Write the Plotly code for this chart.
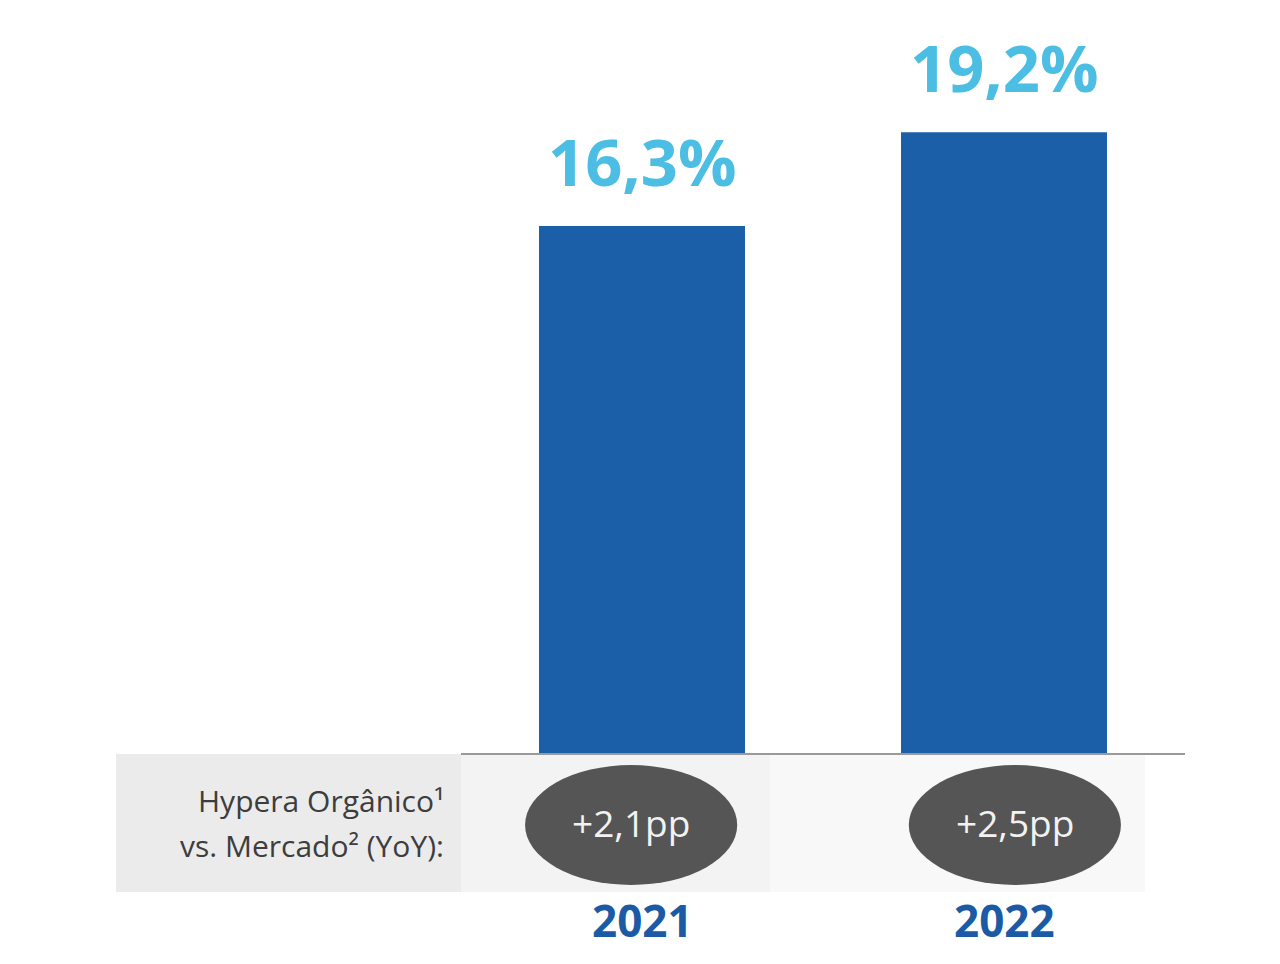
import plotly.graph_objects as go

# ---- data ----
years = ["2021", "2022"]
share = [16.3, 19.2]
share_labels = ["16,3%", "19,2%"]
yoy_labels = ["+2,1pp", "+2,5pp"]
row_label_1 = "Hypera Orgânico¹"
row_label_2 = "vs. Mercado² (YoY):"

# ---- layout geometry (pixels) ----
W, H = 1280, 964
L, R, T, B = 461, 95, 20, 211
plot_w = W - L - R
plot_h = H - T - B

def px_x(p):
    return (p - L) / plot_w

def px_y(q):
    return (H - B - q) / plot_h

BAR = "#1b5fa9"
LABEL = "#4cbde3"
YEAR = "#1c5aa6"

fig = go.Figure()
fig.add_trace(go.Bar(
    x=list(range(len(years))), y=share,
    marker=dict(color=BAR, line=dict(width=0)),
    width=0.569, hoverinfo="skip", showlegend=False,
))

shapes = []
# grey band
shapes.append(dict(type="rect", xref="paper", yref="paper",
                   x0=px_x(116), x1=px_x(461), y0=px_y(892), y1=px_y(754),
                   fillcolor="#ebebeb", line=dict(width=0), layer="below"))
shapes.append(dict(type="rect", xref="paper", yref="paper",
                   x0=px_x(461), x1=px_x(770), y0=px_y(892), y1=px_y(754),
                   fillcolor="#f3f3f3", line=dict(width=0), layer="below"))
shapes.append(dict(type="rect", xref="paper", yref="paper",
                   x0=px_x(770), x1=px_x(1145), y0=px_y(892), y1=px_y(754),
                   fillcolor="#f8f8f8", line=dict(width=0), layer="below"))

annotations = []
offsets = [-0.03, 0.03]
for i, (v, lab, yoy, yr) in enumerate(zip(share, share_labels, yoy_labels, years)):
    annotations.append(dict(x=i, y=v, xref="x", yref="y", text=lab,
                            showarrow=False, yanchor="bottom", yshift=19,
                            font=dict(family="Open Sans", size=65, color=LABEL, weight="bold")))
    c = i + offsets[i]
    shapes.append(dict(type="circle", xref="x", yref="paper",
                       x0=c - 0.293, x1=c + 0.293, y0=px_y(885), y1=px_y(765),
                       fillcolor="#555555", line=dict(width=0)))
    annotations.append(dict(x=c, y=px_y(823), xref="x", yref="paper", text=yoy,
                            showarrow=False, yanchor="middle",
                            font=dict(family="Open Sans", size=37, color="#f2f2f2")))
    annotations.append(dict(x=i, y=px_y(920), xref="x", yref="paper", text=yr,
                            showarrow=False, yanchor="middle",
                            font=dict(family="Open Sans", size=44, color=YEAR, weight="bold")))

annotations.append(dict(x=px_x(446), y=px_y(800), xref="paper", yref="paper",
                        text=row_label_1, showarrow=False, xanchor="right", yanchor="middle",
                        font=dict(family="Open Sans", size=30, color="#3d3d3d")))
annotations.append(dict(x=px_x(446), y=px_y(845), xref="paper", yref="paper",
                        text=row_label_2, showarrow=False, xanchor="right", yanchor="middle",
                        font=dict(family="Open Sans", size=30, color="#3d3d3d")))

fig.update_layout(
    width=W, height=H,
    margin=dict(l=L, r=R, t=T, b=B, pad=0),
    paper_bgcolor="white", plot_bgcolor="white",
    shapes=shapes, annotations=annotations,
    xaxis=dict(range=[-0.5, 1.5], showticklabels=False, showgrid=False, zeroline=False,
               showline=True, linecolor="#9a9a9a", linewidth=2, ticks=""),
    yaxis=dict(range=[0, plot_h / (527 / 16.3)], visible=False, showgrid=False, zeroline=False),
)

fig.write_html("out.html")
